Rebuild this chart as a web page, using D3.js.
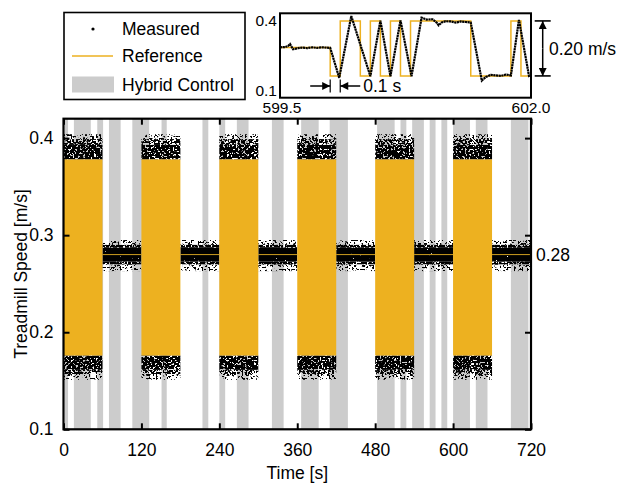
<!DOCTYPE html>
<html>
<head>
<meta charset="utf-8">
<script src="https://cdn.jsdelivr.net/npm/d3@7"></script>
<style>
  body { margin: 0; background: #fff; }
  svg { font-family: "Liberation Sans", Arial, sans-serif; }
</style>
</head>
<body>
<svg id="chart" width="620" height="484"></svg>
<script>
// Axis ticks
const xTicks = [0, 120, 240, 360, 480, 600, 720];
const yTicks = [0.1, 0.2, 0.3, 0.4];

// Oscillating reference segments and constant (hold) segments [s]
const oscStart = [0, 120, 240, 360, 480, 600];
const oscEnd = [60, 180, 300, 420, 540, 660];
const holdStart = [60, 180, 300, 420, 540, 660];
const holdEnd = [120, 240, 360, 480, 600, 720];

// Hybrid control periods [s]
const hybridStart = [2, 16, 52, 70, 106, 151, 214, 240, 267, 321, 366, 410, 483, 519, 537, 564, 582, 600, 635, 689];
const hybridEnd = [7, 42, 61, 88, 132, 159, 223, 249, 285, 339, 393, 438, 510, 528, 555, 573, 591, 626, 653, 716];

// Reference levels [m/s]
const refHigh = 0.378;
const refLow = 0.176;
const refHold = 0.28;

// Measured point clouds: edges between dense / medium / sparse parts [m/s]
const cloudTop = [0.378, 0.393, 0.399, 0.404];
const cloudBottom = [0.176, 0.162, 0.157, 0.151];
const holdUp = [0.28, 0.287, 0.290, 0.295];
const holdDown = [0.28, 0.273, 0.270, 0.263];

// Inset: reference steps
const stepT = [599.5, 600.0, 600.1, 600.3, 600.4, 600.5, 600.6, 600.7, 600.8, 601.4, 601.8, 601.9, 602.0];
const stepV = [0.28, 0.176, 0.378, 0.176, 0.378, 0.176, 0.378, 0.176, 0.378, 0.176, 0.378, 0.176, 0.176];

// Inset: measured speed
const measT = [599.50, 599.55, 599.58, 599.60, 599.63, 599.68, 599.72, 599.77, 599.82, 599.87, 599.92, 599.96, 600.00,
  600.09, 600.21, 600.40, 600.50, 600.60, 600.70, 600.81, 600.91, 600.96, 601.02, 601.06, 601.08, 601.11, 601.15,
  601.20, 601.25, 601.30, 601.35, 601.40, 601.51, 601.55, 601.60, 601.65, 601.70, 601.75, 601.80, 601.88, 601.98, 602.0];
const measV = [0.281, 0.282, 0.286, 0.293, 0.274, 0.278, 0.280, 0.278, 0.281, 0.279, 0.281, 0.280, 0.279,
  0.169, 0.396, 0.175, 0.379, 0.175, 0.380, 0.175, 0.390, 0.383, 0.384, 0.372, 0.362, 0.372, 0.377,
  0.376, 0.372, 0.376, 0.374, 0.372, 0.159, 0.172, 0.180, 0.178, 0.176, 0.181, 0.178, 0.382, 0.176, 0.18];

const yellow = '#EDB120';
const grey = '#cccccc';

const svg = d3.select('#chart');
const defs = svg.append('defs');

// speckle filters give the measured clouds their dotted look
function speckle(id, threshold, seed) {
  const f = defs.append('filter').attr('id', id)
    .attr('x', 0).attr('y', 0).attr('width', 1).attr('height', 1);
  f.append('feTurbulence')
    .attr('type', 'fractalNoise')
    .attr('baseFrequency', 0.55)
    .attr('numOctaves', 1)
    .attr('seed', seed)
    .attr('result', 'noise');
  f.append('feColorMatrix')
    .attr('in', 'noise')
    .attr('type', 'matrix')
    .attr('values', '0 0 0 0 0  0 0 0 0 0  0 0 0 0 0  1 0 0 0 0')
    .attr('result', 'a');
  f.append('feComponentTransfer')
    .attr('in', 'a')
    .attr('result', 't')
    .append('feFuncA')
    .attr('type', 'linear')
    .attr('slope', 25)
    .attr('intercept', -25 * threshold);
  f.append('feComposite')
    .attr('in', 't')
    .attr('in2', 'SourceGraphic')
    .attr('operator', 'in');
}
speckle('solid', 0.22, 2);
speckle('dense', 0.38, 5);
speckle('medium', 0.46, 7);
speckle('sparse', 0.56, 11);

// Main plot
const margin = { top: 118.7, right: 89, bottom: 54.7, left: 63.5 };
const x = d3.scaleLinear().domain([0, 720]).range([margin.left, 620 - margin.right]);
const y = d3.scaleLinear().domain([0.1, 0.42]).range([484 - margin.bottom, margin.top]);

defs.append('clipPath').attr('id', 'plotClip')
  .append('rect')
  .attr('x', x(0)).attr('y', y(0.42))
  .attr('width', x(720) - x(0)).attr('height', y(0.1) - y(0.42));

const plot = svg.append('g').attr('clip-path', 'url(#plotClip)');

// Hybrid control bands
plot.selectAll('.hybrid')
  .data(hybridStart.map((s, i) => [s, hybridEnd[i]]))
  .join('rect')
  .attr('class', 'hybrid')
  .attr('x', d => x(d[0]))
  .attr('width', d => x(d[1]) - x(d[0]))
  .attr('y', y(0.42))
  .attr('height', y(0.1) - y(0.42))
  .attr('fill', grey);

// Measured clouds
const levelsOsc = ['dense', 'medium', 'sparse'];
const levelsHold = ['solid', 'dense', 'sparse'];
const cloudRects = [];
oscStart.forEach((s, i) => {
  for (let k = 0; k < 3; k++) {
    cloudRects.push({ t0: s, t1: oscEnd[i], v0: cloudTop[k], v1: cloudTop[k + 1], f: levelsOsc[k] });
    cloudRects.push({ t0: s, t1: oscEnd[i], v0: cloudBottom[k], v1: cloudBottom[k + 1], f: levelsOsc[k] });
  }
});
holdStart.forEach((s, i) => {
  for (let k = 0; k < 3; k++) {
    cloudRects.push({ t0: s, t1: holdEnd[i], v0: holdUp[k], v1: holdUp[k + 1], f: levelsHold[k] });
    cloudRects.push({ t0: s, t1: holdEnd[i], v0: holdDown[k], v1: holdDown[k + 1], f: levelsHold[k] });
  }
});
plot.selectAll('.cloud')
  .data(cloudRects)
  .join('rect')
  .attr('class', 'cloud')
  .attr('x', d => x(d.t0))
  .attr('width', d => x(d.t1) - x(d.t0))
  .attr('y', d => y(Math.max(d.v0, d.v1)))
  .attr('height', d => Math.abs(y(d.v0) - y(d.v1)))
  .attr('fill', '#000')
  .style('filter', d => `url(#${d.f})`);

// Reference
plot.selectAll('.refBlock')
  .data(oscStart.map((s, i) => [s, oscEnd[i]]))
  .join('rect')
  .attr('class', 'refBlock')
  .attr('x', d => x(d[0]))
  .attr('width', d => x(d[1]) - x(d[0]))
  .attr('y', y(refHigh))
  .attr('height', y(refLow) - y(refHigh))
  .attr('fill', yellow);

plot.selectAll('.refHold')
  .data(holdStart.map((s, i) => [s, holdEnd[i]]))
  .join('line')
  .attr('class', 'refHold')
  .attr('x1', d => x(d[0]))
  .attr('x2', d => x(d[1]))
  .attr('y1', y(refHold))
  .attr('y2', y(refHold))
  .attr('stroke', '#c99a1c')
  .attr('stroke-width', 1);

// Axes: ticks inside on all four sides
const tickLen = 6;
svg.append('g')
  .attr('transform', `translate(0,${y(0.1)})`)
  .call(d3.axisBottom(x).tickValues(xTicks).tickSize(-tickLen).tickPadding(14).tickFormat(d3.format('d')))
  .call(g => g.select('.domain').remove());
svg.append('g')
  .attr('transform', `translate(0,${y(0.42)})`)
  .call(d3.axisTop(x).tickValues(xTicks).tickSize(-tickLen).tickFormat(''))
  .call(g => g.select('.domain').remove());
svg.append('g')
  .attr('transform', `translate(${x(0)},0)`)
  .call(d3.axisLeft(y).tickValues(yTicks).tickSize(-tickLen).tickPadding(10).tickFormat(d3.format('.1f')))
  .call(g => g.select('.domain').remove());
svg.append('g')
  .attr('transform', `translate(${x(720)},0)`)
  .call(d3.axisRight(y).tickValues(yTicks).tickSize(-tickLen).tickFormat(''))
  .call(g => g.select('.domain').remove());

svg.selectAll('.tick line').attr('stroke', '#000').attr('stroke-width', 2);
svg.selectAll('.tick text')
  .attr('font-size', 17.5)
  .attr('font-family', '"Liberation Sans", Arial, sans-serif')
  .attr('fill', '#000');

// frame
svg.append('rect')
  .attr('x', x(0)).attr('y', y(0.42))
  .attr('width', x(720) - x(0)).attr('height', y(0.1) - y(0.42))
  .attr('fill', 'none').attr('stroke', '#000').attr('stroke-width', 2.2);

// 0.28 label on the right
svg.append('text')
  .attr('x', x(720) + 5)
  .attr('y', y(refHold))
  .attr('dy', '0.36em')
  .attr('font-size', 17.5)
  .text('0.28');

// Axis titles
svg.append('text')
  .attr('x', (x(0) + x(720)) / 2)
  .attr('y', 479)
  .attr('text-anchor', 'middle')
  .attr('font-size', 17.5)
  .text('Time [s]');
svg.append('text')
  .attr('transform', `translate(27,${(y(0.1) + y(0.42)) / 2}) rotate(-90)`)
  .attr('text-anchor', 'middle')
  .attr('font-size', 17.5)
  .text('Treadmill Speed [m/s]');

// Legend
const legend = svg.append('g');
legend.append('rect')
  .attr('x', 64).attr('y', 12.5).attr('width', 181).attr('height', 87)
  .attr('fill', '#fff').attr('stroke', '#000').attr('stroke-width', 1.6);
legend.append('circle').attr('cx', 93).attr('cy', 29).attr('r', 1.6).attr('fill', '#000');
legend.append('line').attr('x1', 72).attr('x2', 113).attr('y1', 56).attr('y2', 56)
  .attr('stroke', yellow).attr('stroke-width', 1.6);
legend.append('rect').attr('x', 72).attr('y', 76.5).attr('width', 42).attr('height', 16).attr('fill', grey);
[['Measured', 29], ['Reference', 56], ['Hybrid Control', 84.5]].forEach(([t, yy]) => {
  legend.append('text').attr('x', 122).attr('y', yy).attr('dy', '0.36em')
    .attr('font-size', 17.5).text(t);
});

// Inset
const ix = d3.scaleLinear().domain([599.5, 602.0]).range([280, 531]);
const iy = d3.scaleLinear().domain([0.096, 0.406]).range([97.7, 13.3]);
const inset = svg.append('g');
inset.append('rect')
  .attr('x', 280).attr('y', 13.3).attr('width', 251).attr('height', 84.4)
  .attr('fill', '#fff');
defs.append('clipPath').attr('id', 'insetClip')
  .append('rect').attr('x', 280).attr('y', 13.3).attr('width', 251).attr('height', 84.4);

const stepLine = d3.line().curve(d3.curveStepAfter).x(d => ix(d[0])).y(d => iy(d[1]));
inset.append('path')
  .attr('clip-path', 'url(#insetClip)')
  .attr('d', stepLine(stepT.map((t, i) => [t, stepV[i]])))
  .attr('fill', 'none').attr('stroke', yellow).attr('stroke-width', 1.5);

const measLine = d3.line().x(d => ix(d[0])).y(d => iy(d[1]));
inset.append('path')
  .attr('clip-path', 'url(#insetClip)')
  .attr('d', measLine(measT.map((t, i) => [t, measV[i]])))
  .attr('fill', 'none').attr('stroke', '#000').attr('stroke-width', 2.2)
  .attr('stroke-dasharray', '2.2,0.5');

inset.append('rect')
  .attr('x', 280).attr('y', 13.3).attr('width', 251).attr('height', 84.4)
  .attr('fill', 'none').attr('stroke', '#000').attr('stroke-width', 2);

// inset tick labels
inset.append('text').attr('x', 277).attr('y', 20).attr('dy', '0.36em')
  .attr('text-anchor', 'end').attr('font-size', 15.5).text('0.4');
inset.append('text').attr('x', 277).attr('y', 90).attr('dy', '0.36em')
  .attr('text-anchor', 'end').attr('font-size', 15.5).text('0.1');
inset.append('text').attr('x', 282).attr('y', 113)
  .attr('text-anchor', 'middle').attr('font-size', 15.5).text('599.5');
inset.append('text').attr('x', 531).attr('y', 113)
  .attr('text-anchor', 'middle').attr('font-size', 15.5).text('602.0');

// arrow heads
defs.append('marker').attr('id', 'head')
  .attr('viewBox', '0 0 10 10').attr('refX', 10).attr('refY', 5)
  .attr('markerWidth', 10).attr('markerHeight', 8)
  .attr('markerUnits', 'userSpaceOnUse')
  .attr('orient', 'auto')
  .append('path').attr('d', 'M0,0L10,5L0,10Z').attr('fill', '#000');

// 0.1 s delay annotation
const tA = 600.0, tB = 600.1, yAnn = 86;
inset.append('line').attr('x1', ix(tA) - 20).attr('x2', ix(tA)).attr('y1', yAnn).attr('y2', yAnn)
  .attr('stroke', '#000').attr('stroke-width', 1.5).attr('marker-end', 'url(#head)');
inset.append('line').attr('x1', ix(tB) + 20).attr('x2', ix(tB)).attr('y1', yAnn).attr('y2', yAnn)
  .attr('stroke', '#000').attr('stroke-width', 1.5).attr('marker-end', 'url(#head)');
[tA, tB].forEach(t => {
  inset.append('line').attr('x1', ix(t)).attr('x2', ix(t)).attr('y1', yAnn - 6.5).attr('y2', yAnn + 6.5)
    .attr('stroke', '#000').attr('stroke-width', 1.2);
});
inset.append('text').attr('x', ix(tB) + 23).attr('y', yAnn).attr('dy', '0.36em')
  .attr('font-size', 17.5).text('0.1 s');

// 0.20 m/s amplitude annotation
const xAmp = 542.7;
[refHigh, refLow].forEach(v => {
  svg.append('line').attr('x1', xAmp - 8).attr('x2', xAmp + 8).attr('y1', iy(v)).attr('y2', iy(v))
    .attr('stroke', '#000').attr('stroke-width', 1.6);
});
const yMid = (iy(refHigh) + iy(refLow)) / 2;
svg.append('line').attr('x1', xAmp).attr('x2', xAmp).attr('y1', yMid).attr('y2', iy(refHigh))
  .attr('stroke', '#000').attr('stroke-width', 1.5).attr('marker-end', 'url(#head)');
svg.append('line').attr('x1', xAmp).attr('x2', xAmp).attr('y1', yMid).attr('y2', iy(refLow))
  .attr('stroke', '#000').attr('stroke-width', 1.5).attr('marker-end', 'url(#head)');
svg.append('text').attr('x', 549).attr('y', yMid).attr('dy', '0.36em')
  .attr('font-size', 17.5).text('0.20 m/s');
</script>
</body>
</html>
